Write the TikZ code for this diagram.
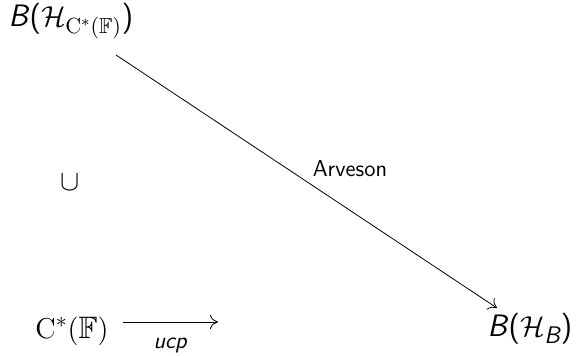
\documentclass[tikz,border=0pt]{standalone}
\usepackage{amsmath,amssymb}
\usetikzlibrary{arrows.meta}
\begin{document}
\begin{tikzpicture}[x=0.5pt,y=-0.5pt,
  big/.style={font=\fontsize{15.5}{18}\selectfont\sffamily, inner sep=0pt},
  lbl/.style={font=\fontsize{11.5}{13}\selectfont\sffamily, inner sep=0pt},
  arr/.style={-{To[length=4pt,width=7pt]}, line width=0.4pt}]
\useasboundingbox (0,0) rectangle (578,356);
\node[big] (top) at (71,21) {\textit{B}(\textit{$\mathcal{H}_{\mathrm{C}^*(\mathbb{F})}$})};
\node[big] (cup) at (70,183) {$\cup$};
\node[big] (cf) at (72,331) {$\mathrm{C}^*(\mathbb{F})$};
\node[big] (bh) at (530,329) {\textit{B}($\mathcal{H}_{\text{\fontsize{12}{13}\selectfont\sffamily\itshape B}}$)};
\coordinate (s1) at (116,55);
\coordinate (e1) at (497,308);
\draw[arr] (s1) -- (e1);
\node[lbl] (arv) at (350,169) {Arveson};
\coordinate (s2) at (123,322);
\coordinate (e2) at (218,322);
\draw[arr] (s2) -- (e2) node[lbl, midway, below=8pt] (ucp) {\textit{ucp}};
\end{tikzpicture}
\end{document}
